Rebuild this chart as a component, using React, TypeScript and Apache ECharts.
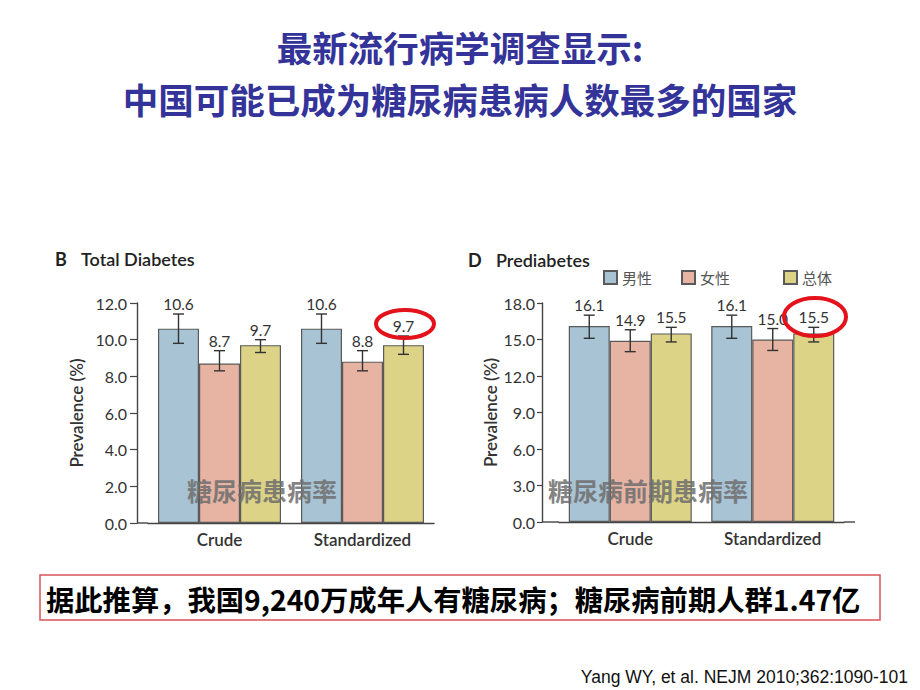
import React, { useEffect, useRef } from "react";
import * as echarts from "echarts";

// ---------- data ----------
const categories = ["Crude", "Standardized"];
const seriesNames = ["男性", "女性", "总体"];

const diabetesMale = [10.6, 10.6];
const diabetesFemale = [8.7, 8.8];
const diabetesTotal = [9.7, 9.7];
const diabetesMaleCI = [[9.8, 11.4], [9.8, 11.4]];
const diabetesFemaleCI = [[8.3, 9.4], [8.3, 9.4]];
const diabetesTotalCI = [[9.3, 10.0], [9.2, 10.2]];

const preMale = [16.1, 16.1];
const preFemale = [14.9, 15.0];
const preTotal = [15.5, 15.5];
const preMaleCI = [[15.1, 17.0], [15.1, 17.0]];
const preFemaleCI = [[14.0, 15.8], [14.1, 15.9]];
const preTotalCI = [[14.8, 16.0], [14.8, 16.0]];

const diabetesTicks = { min: 0, max: 12, interval: 2 };
const preTicks = { min: 0, max: 18, interval: 3 };

const titleLine1 = "最新流行病学调查显示:";
const titleLine2 = "中国可能已成为糖尿病患病人数最多的国家";
const footerText = "据此推算，我国9,240万成年人有糖尿病；糖尿病前期人群1.47亿";
const citation = "Yang WY, et al. NEJM 2010;362:1090-101";
const overlayLeft = "糖尿病患病率";
const overlayRight = "糖尿病前期患病率";

// ---------- styles ----------
const COLORS = ["#a8c3d3", "#e7b4a3", "#dcd386"];
const BORDER = "#5a5a5a";
const AXIS = "#444";
const TXT = "#333";
const LATIN = "Lato, 'Open Sans', sans-serif";
const CJK = "'Noto Sans CJK SC', sans-serif";
const BAR_W = 41;

function buildOption() {
  const barSeries = (gridIdx: number, vals: number[][]) =>
    vals.map((v, i) => ({
      type: "bar",
      name: seriesNames[i],
      xAxisIndex: gridIdx,
      yAxisIndex: gridIdx,
      data: v,
      barWidth: BAR_W,
      barGap: "0%",
      itemStyle: { color: COLORS[i], borderColor: BORDER, borderWidth: 1.2 },
      z: 2,
    }));

  const errSeries = (gridIdx: number, vals: number[][], cis: number[][][]) =>
    vals.map((v, i) => ({
      type: "custom",
      name: seriesNames[i],
      xAxisIndex: gridIdx,
      yAxisIndex: gridIdx,
      z: 4,
      encode: { x: 0, y: [1, 2] },
      data: v.map((val, c) => [c, cis[i][c][0], cis[i][c][1], val]),
      renderItem: (params: any, api: any) => {
        const cat = api.value(0);
        const off = (i - 1) * BAR_W;
        const x = api.coord([cat, 0])[0] + off;
        const yl = api.coord([cat, api.value(1)])[1];
        const yh = api.coord([cat, api.value(2)])[1];
        const cap = 5.5;
        const ls = { stroke: "#333", lineWidth: 1.4 };
        return {
          type: "group",
          children: [
            { type: "line", shape: { x1: x, y1: yl, x2: x, y2: yh }, style: ls },
            { type: "line", shape: { x1: x - cap, y1: yh, x2: x + cap, y2: yh }, style: ls },
            { type: "line", shape: { x1: x - cap, y1: yl, x2: x + cap, y2: yl }, style: ls },
            {
              type: "text",
              style: {
                text: Number(api.value(3)).toFixed(1),
                x,
                y: yh - 10,
                align: "center",
                verticalAlign: "middle",
                fill: TXT,
                fontSize: 15.5,
                fontFamily: LATIN,
              },
            },
          ],
        };
      },
    }));

  const xAxisBase = (gridIdx: number) => ({
    type: "category",
    gridIndex: gridIdx,
    data: categories,
    axisLine: { show: true, lineStyle: { color: AXIS, width: 1.4 } },
    axisTick: { show: false },
    axisLabel: { color: TXT, fontSize: 17, fontWeight: 600, fontFamily: LATIN, margin: 8 },
  });

  const yAxisBase = (gridIdx: number, t: any, offset: number, nameGap: number, margin: number, tickLen: number) => ({
    type: "value",
    gridIndex: gridIdx,
    min: t.min,
    max: t.max,
    interval: t.interval,
    offset,
    name: "Prevalence (%)",
    nameLocation: "middle",
    nameGap,
    nameTextStyle: { color: TXT, fontSize: 17, fontWeight: 600, fontFamily: LATIN },
    axisLine: { show: true, lineStyle: { color: AXIS, width: 1.4 } },
    axisTick: { show: true, inside: false, length: tickLen, lineStyle: { color: AXIS, width: 1.2 } },
    splitLine: { show: false },
    axisLabel: {
      color: TXT,
      fontSize: 16,
      fontFamily: LATIN,
      margin,
      formatter: (v: number) => v.toFixed(1),
    },
  });

  const legendAt = (name: string, left: number) => ({
    data: [name],
    left,
    top: 265,
    itemWidth: 13,
    itemHeight: 13,
    itemGap: 8,
    icon: "rect",
    textStyle: { color: "#555", fontSize: 15, fontFamily: CJK },
    selectedMode: false,
  });

  const title = (text: string, cy: number) => ({
    type: "text",
    x: 460,
    y: cy,
    style: {
      text,
      fill: "#333399",
      fontSize: 35.5,
      fontFamily: CJK,
      fontWeight: "bold",
      align: "center",
      verticalAlign: "middle",
    },
  });

  return {
    animation: false,
    backgroundColor: "#ffffff",
    grid: [
      { left: 148, top: 303, width: 286, height: 220 },
      { left: 559, top: 303, width: 285, height: 219 },
    ],
    xAxis: [xAxisBase(0), xAxisBase(1)],
    yAxis: [
      yAxisBase(0, diabetesTicks, 11, 52, 10, 7),
      yAxisBase(1, preTicks, 17, 43, 7, 5),
    ],
    legend: [legendAt(seriesNames[0], 598), legendAt(seriesNames[1], 676), legendAt(seriesNames[2], 778)],
    series: [
      ...barSeries(0, [diabetesMale, diabetesFemale, diabetesTotal]),
      ...barSeries(1, [preMale, preFemale, preTotal]),
      ...errSeries(0, [diabetesMale, diabetesFemale, diabetesTotal], [diabetesMaleCI, diabetesFemaleCI, diabetesTotalCI]),
      ...errSeries(1, [preMale, preFemale, preTotal], [preMaleCI, preFemaleCI, preTotalCI]),
    ],
    graphic: [
      title(titleLine1, 46),
      title(titleLine2, 98),
      // panel titles
      { type: "text", x: 55, y: 250, style: { text: "B", fill: "#222", fontSize: 18, fontWeight: "bold", fontFamily: LATIN } },
      { type: "text", x: 81, y: 250, style: { text: "Total Diabetes", fill: "#222", fontSize: 18, fontWeight: 600, fontFamily: LATIN } },
      { type: "text", x: 468, y: 251, style: { text: "D", fill: "#222", fontSize: 18, fontWeight: "bold", fontFamily: LATIN } },
      { type: "text", x: 496, y: 251, style: { text: "Prediabetes", fill: "#222", fontSize: 18, fontWeight: 600, fontFamily: LATIN } },
      // baseline extensions to the y axes
      { type: "line", shape: { x1: 137, y1: 523, x2: 148, y2: 523 }, style: { stroke: AXIS, lineWidth: 1.4 } },
      { type: "line", shape: { x1: 542, y1: 522, x2: 559, y2: 522 }, style: { stroke: AXIS, lineWidth: 1.4 } },
      { type: "line", shape: { x1: 844, y1: 522, x2: 855, y2: 522 }, style: { stroke: AXIS, lineWidth: 1.4 } },
      // overlay captions
      { type: "text", x: 262, y: 490, z: 10, style: { text: overlayLeft, fill: "rgba(110,110,110,0.85)", fontSize: 25, fontWeight: "bold", fontFamily: CJK, align: "center", verticalAlign: "middle" } },
      { type: "text", x: 648, y: 490, z: 10, style: { text: overlayRight, fill: "rgba(110,110,110,0.85)", fontSize: 25, fontWeight: "bold", fontFamily: CJK, align: "center", verticalAlign: "middle" } },
      // red highlight ellipses
      { type: "ellipse", z: 20, shape: { cx: 405, cy: 324, rx: 29, ry: 14 }, style: { fill: "none", stroke: "#e3121b", lineWidth: 4 } },
      { type: "ellipse", z: 20, shape: { cx: 815, cy: 317, rx: 31, ry: 19 }, style: { fill: "none", stroke: "#e3121b", lineWidth: 4 } },
      // footer box
      { type: "rect", z: 5, shape: { x: 40, y: 575, width: 840, height: 45 }, style: { fill: "#ffffff", stroke: "#d9545a", lineWidth: 1.5 } },
      { type: "text", z: 6, x: 46, y: 598, style: { text: footerText, fill: "#000", fontSize: 28.3, fontWeight: "bold", fontFamily: CJK, verticalAlign: "middle" } },
      { type: "text", z: 6, x: 908, y: 677, style: { text: citation, fill: "#111", fontSize: 17.5, fontFamily: "'Liberation Sans', Arial, sans-serif", align: "right", verticalAlign: "middle" } },
    ],
  };
}

export default function App() {
  const ref = useRef<HTMLDivElement>(null);
  useEffect(() => {
    document.body.style.margin = "0";
    if (!ref.current) return;
    const chart = echarts.init(ref.current, undefined, { renderer: "svg" });
    chart.setOption(buildOption() as any);
    return () => chart.dispose();
  }, []);
  return <div ref={ref} style={{ width: 920, height: 690 }} />;
}
